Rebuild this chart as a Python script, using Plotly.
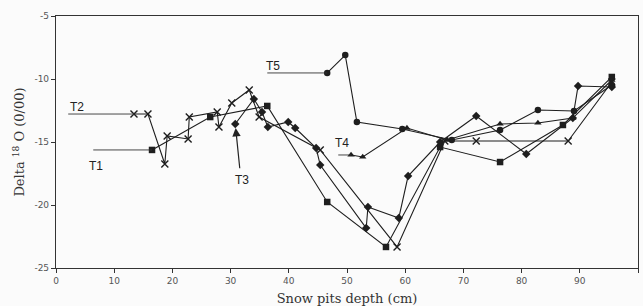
import plotly.graph_objects as go

# ---- data (depth in cm, delta 18O in per mil) ----
t1_x = [16.5, 26.5, 36.3, 46.6, 56.7, 66.0, 76.3, 87.1, 95.5]
t1_y = [-15.63, -13.02, -12.14, -19.76, -23.33, -15.40, -16.59, -13.65, -9.84]

t2_x = [13.4, 15.8, 18.7, 19.1, 22.7, 22.9, 27.7, 28.0, 30.2, 33.2, 34.9, 45.4, 58.6, 66.8, 72.2, 88.0, 95.5]
t2_y = [-12.78, -12.78, -16.75, -14.52, -14.76, -13.02, -12.62, -13.81, -11.90, -10.87, -13.02, -15.63, -23.33,
        -14.92, -14.92, -14.92, -10.24]

t3_x = [30.8, 34.0, 35.4, 36.4, 39.9, 41.1, 44.7, 45.4, 53.3, 53.6, 58.9, 60.5, 66.0, 72.2, 80.8, 88.8, 89.7, 95.5]
t3_y = [-13.57, -11.59, -12.62, -13.81, -13.41, -13.89, -15.48, -16.83, -21.83, -20.16, -21.03, -17.70,
        -15.0, -12.94, -15.95, -13.10, -10.56, -10.63]

t4_x = [50.7, 52.7, 60.3, 67.2, 76.3, 82.8, 88.8, 95.5]
t4_y = [-16.03, -16.19, -13.89, -14.84, -13.57, -13.49, -13.10, -10.08]

t5_x = [46.6, 49.7, 51.7, 59.5, 68.0, 76.3, 82.8, 89.0, 95.5]
t5_y = [-9.52, -8.10, -13.41, -13.97, -14.84, -14.05, -12.46, -12.54, -10.48]

series_names = ["T1", "T2", "T3", "T4", "T5"]
# leader lines: start depth of the label line (ends at first sample)
leader_start = {"T1": 6.4, "T2": 2.1, "T4": 48.5, "T5": 36.3}
# label text positions (depth, delta)
label_pos = {"T1": (5.4, -16.9), "T2": (2.0, -12.2), "T3": (30.4, -18.0), "T4": (47.6, -15.1), "T5": (35.8, -9.0)}

x_ticks = [0, 10, 20, 30, 40, 50, 60, 70, 80, 90, 100]
y_ticks = [-5, -10, -15, -20, -25]

INK = "#1e1e1e"
symbols = {"T1": "square", "T2": "x-thin-open", "T3": "diamond", "T4": "triangle-up", "T5": "circle"}
data = {"T1": (t1_x, t1_y), "T2": (t2_x, t2_y), "T3": (t3_x, t3_y), "T4": (t4_x, t4_y), "T5": (t5_x, t5_y)}

fig = go.Figure()
for name in series_names:
    xs, ys = data[name]
    sym = symbols[name]
    fig.add_trace(go.Scatter(
        x=xs, y=ys, mode="lines+markers", name=name,
        line=dict(color=INK, width=1.1),
        marker=dict(symbol=sym, size=7 if name == "T2" else 6.5, color=INK,
                    line=dict(color=INK, width=1.4 if name == "T2" else 0)),
        showlegend=False,
    ))
    if name in leader_start:
        fig.add_trace(go.Scatter(
            x=[leader_start[name], xs[0]], y=[ys[0], ys[0]], mode="lines",
            line=dict(color="#333333", width=0.9), showlegend=False, hoverinfo="skip",
        ))

for name in series_names:
    lx, ly = label_pos[name]
    fig.add_annotation(x=lx, y=ly, text=name, showarrow=False, xanchor="left",
                       font=dict(family="Liberation Sans, Arial", size=12, color="#222"))

# arrow for T3 pointing to its first sample
fig.add_annotation(x=t3_x[0], y=t3_y[0], ax=31.6, ay=-17.2, xref="x", yref="y", axref="x", ayref="y",
                   text="", showarrow=True, arrowhead=2, arrowsize=1.4, arrowwidth=1.2,
                   arrowcolor="#222", standoff=4)

fig.update_xaxes(range=[0, 100], tickvals=x_ticks, ticktext=[str(v) for v in x_ticks],
                 showgrid=False, zeroline=False, showline=True, mirror=True, linecolor="#333", linewidth=1.2,
                 ticks="outside", ticklen=4, tickcolor="#333", automargin=False,
                 tickfont=dict(family="DejaVu Sans", size=9, color="#555"),
                 title=dict(text="Snow pits depth (cm)", standoff=15,
                            font=dict(family="DejaVu Serif", size=13, color="#333")))
fig.update_yaxes(range=[-25, -5], tickvals=y_ticks, ticktext=["-5", "-10", "-15", "-20", "-25"],
                 showgrid=False, zeroline=False, showline=True, mirror=True, linecolor="#333", linewidth=1.2,
                 ticks="outside", ticklen=4, tickcolor="#333", automargin=False,
                 tickfont=dict(family="DejaVu Sans", size=9, color="#555"),
                 title=dict(text="Delta <sup>18</sup> O (0/00)", standoff=6,
                            font=dict(family="DejaVu Serif", size=13, color="#333")))

fig.update_layout(width=643, height=306, margin=dict(l=56, r=5, t=16, b=38),
                  paper_bgcolor="#fbfbfb", plot_bgcolor="#fbfbfb")

fig.write_html("out.html", config={"displayModeBar": False},
               post_script="document.body.style.margin='0';document.body.style.overflow='hidden';")
